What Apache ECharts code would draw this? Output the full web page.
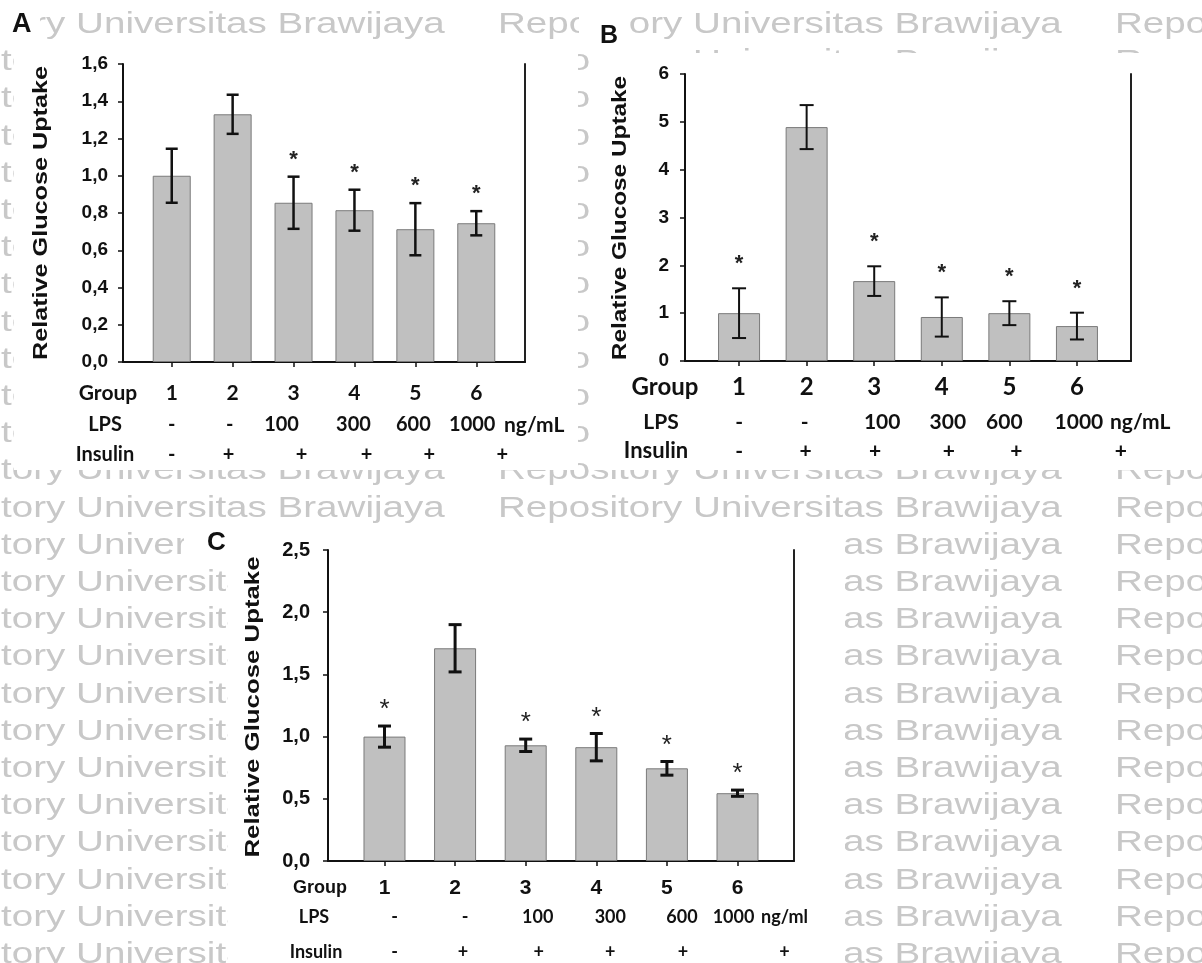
<!DOCTYPE html>
<html><head><meta charset="utf-8">
<script src="https://cdn.jsdelivr.net/npm/echarts@6/dist/echarts.min.js"></script>
<style>html,body{margin:0;padding:0;background:#fff}#c{width:1202px;height:963px}</style>
</head><body><div id="c"></div>
<script>
// ---------- data ----------
const groups = ['1', '2', '3', '4', '5', '6'];
const groupPos = [1, 2, 3, 4, 5, 6];
const lpsLabels = ['-', '-', '100', '300', '600', '1000'];
const insulinLabels = ['-', '+', '+', '+', '+', '+'];

const meanA = [1.00, 1.33, 0.855, 0.815, 0.713, 0.745];
const errA  = [0.145, 0.105, 0.14, 0.11, 0.14, 0.065];
const sigA  = [0, 0, 1, 1, 1, 1];

const meanB = [1.00, 4.89, 1.67, 0.92, 1.00, 0.73];
const errB  = [0.52, 0.46, 0.31, 0.41, 0.25, 0.28];
const sigB  = [1, 0, 1, 1, 1, 1];

const meanC = [1.00, 1.71, 0.93, 0.915, 0.745, 0.545];
const errC  = [0.085, 0.19, 0.05, 0.11, 0.055, 0.025];
const sigC  = [1, 0, 1, 1, 1, 1];

const yTitle = 'Relative Glucose Uptake';
const watermark = 'Repository Universitas Brawijaya';

// ---------- layout / style ----------
const SANS = 'Liberation Sans';
const CAL = 'Lato';
const panels = [
  { letter: 'A', mean: meanA, err: errA, sig: sigA, unit: 'ng/mL',
    grid: { left: 123, top: 64, width: 402, height: 298 }, yMax: 1.6, yInt: 0.2, dec: 1,
    barW: 38, tickFont: 19, yMargin: 15, lw: 2.5, cap: 6, starFont: 'bold 22px "' + SANS + '"', starGap: 17,
    rowFonts: [21, 20, 20], rowFam: [CAL, CAL, CAL], margins: [31, 63, 93],
    nudge: [[0, 0, 0, 0, 0, 0], [0, -3, -12, -1, -2, -4], [0, -4, 8, 12, 14, 26]],
    title: { x: 41, y: 213, size: 21, sx: 1.2 },
    heads: [[108, 393, 21], [105, 425, 20], [105, 455, 20]], unitPos: [504, 425, 21],
    letterPos: [12, 25, 27] },
  { letter: 'B', mean: meanB, err: errB, sig: sigB, unit: 'ng/mL',
    grid: { left: 685, top: 74, width: 446, height: 287 }, yMax: 6, yInt: 1, dec: 0,
    barW: 42, tickFont: 19, yMargin: 16, lw: 2, cap: 7, starFont: 'bold 22px "' + SANS + '"', starGap: 24,
    rowFonts: [24, 21, 21], rowFam: [CAL, CAL, CAL], margins: [26, 61, 90],
    nudge: [[0, 0, 0, 0, 0, 0], [0, -2, 8, 6, -5, 2], [0, -1, 1, 7, 7, 44]],
    title: { x: 620, y: 218, size: 21, sx: 1.16 },
    heads: [[665, 387, 24], [661, 422, 21], [656, 451, 22]], unitPos: [1110, 422, 21],
    letterPos: [600, 36, 25] },
  { letter: 'C', mean: meanC, err: errC, sig: sigC, unit: 'ng/ml',
    grid: { left: 328, top: 550, width: 466, height: 311 }, yMax: 2.5, yInt: 0.5, dec: 1,
    barW: 42, tickFont: 20, yMargin: 18, lw: 3, cap: 6.5, starFont: '26px "' + SANS + '"', starGap: 16,
    rowFonts: [21, 18, 18], rowFam: [SANS, CAL, CAL], margins: [27, 56, 91],
    nudge: [[0, 0, 0, 0, 0, 0], [10, 10, 12, 14, 15, -4], [10, 8, 13, 14, 16, 47]],
    title: { x: 253, y: 707, size: 20, sx: 1.29 },
    heads: [[320, 888, 18, SANS], [314, 917, 18], [316, 952, 18]], unitPos: [761, 917, 18],
    letterPos: [207, 543, 26] }
];

const grids = [], xAxes = [], yAxes = [], series = [], graphics = [];

// watermark background
for (let r = 0; r < 26; r++) {
  for (let j = 0; j < 3; j++) {
    graphics.push({ type: 'text', x: -119 + 617 * j, y: 25 + 37.2 * r, scaleX: 1.33, z: 0,
      style: { text: watermark, font: '29px "' + SANS + '"', fill: '#c8c8c8',
        align: 'left', textAlign: 'left', verticalAlign: 'middle', textVerticalAlign: 'middle' } });
  }
}
// panel image backgrounds
[[14, 39, 564, 431], [589, 53, 613, 417], [228, 528, 617, 435], [184, 528, 44, 40],
 [0, 0, 40, 39], [579, 0, 50, 53]].forEach(b => {
  graphics.push({ type: 'rect', z: 1, shape: { x: b[0], y: b[1], width: b[2], height: b[3] },
    style: { fill: '#ffffff' } });
});

function txt(x, y, text, font, align, extra) {
  return Object.assign({ type: 'text', x: x, y: y, z: 10,
    style: { text: text, font: font, fill: '#111', align: align, textAlign: align,
      verticalAlign: 'middle', textVerticalAlign: 'middle' } }, extra || {});
}

function errRender(p) {
  return function (params, api) {
    const x = api.value(0), lo = api.value(1), hi = api.value(2), s = api.value(3);
    const t = api.coord([x, hi]), b = api.coord([x, lo]);
    const ls = { stroke: '#111', lineWidth: p.lw };
    const ch = [
      { type: 'line', shape: { x1: t[0], y1: t[1], x2: b[0], y2: b[1] }, style: ls },
      { type: 'line', shape: { x1: t[0] - p.cap, y1: t[1], x2: t[0] + p.cap, y2: t[1] }, style: ls },
      { type: 'line', shape: { x1: b[0] - p.cap, y1: b[1], x2: b[0] + p.cap, y2: b[1] }, style: ls }
    ];
    if (s) ch.push({ type: 'text', x: t[0], y: t[1] - p.starGap,
      style: { text: '*', font: p.starFont, fill: '#222', align: 'center', textAlign: 'center',
        verticalAlign: 'middle', textVerticalAlign: 'middle' } });
    return { type: 'group', children: ch };
  };
}

panels.forEach((p, i) => {
  grids.push(Object.assign({ containLabel: false }, p.grid));
  const rowLabels = [groups, lpsLabels, insulinLabels];
  for (let k = 0; k < 3; k++) {
    const rich = {};
    p.nudge[k].forEach((s, n) => {
      rich['o' + n] = { fontFamily: p.rowFam[k], fontWeight: 'bold', fontSize: p.rowFonts[k], color: '#111',
        padding: s >= 0 ? [0, 0, 0, 2 * s] : [0, -2 * s, 0, 0] };
    });
    xAxes.push({ gridIndex: i, type: 'value', min: 0.2, max: 6.8, position: 'bottom', offset: 0, z: 5,
      axisLine: { show: k === 0, onZero: false, lineStyle: { color: '#111', width: 2 } },
      axisTick: { show: k === 0, customValues: groupPos, length: 5, lineStyle: { color: '#111', width: 1.5 } },
      splitLine: { show: false },
      axisLabel: { show: true, customValues: groupPos, margin: p.margins[k], verticalAlign: 'middle',
        fontFamily: p.rowFam[k], fontWeight: 'bold', fontSize: p.rowFonts[k], color: '#111', rich: rich,
        formatter: (function (arr) { return function (v) {
          const n = Math.round(v) - 1; return '{o' + n + '|' + arr[n] + '}'; }; })(rowLabels[k]) } });
  }
  yAxes.push({ gridIndex: i, type: 'value', min: 0, max: p.yMax, interval: p.yInt, z: 5,
    axisLine: { show: true, lineStyle: { color: '#111', width: 2 } },
    axisTick: { show: true, length: 5, lineStyle: { color: '#111', width: 1.5 } },
    splitLine: { show: false },
    axisLabel: { margin: p.yMargin, fontFamily: SANS, fontWeight: 'bold', fontSize: p.tickFont, color: '#111',
      formatter: (function (d) { return function (v) { return v.toFixed(d).replace('.', ','); }; })(p.dec) } });
  yAxes.push({ gridIndex: i, type: 'value', min: 0, max: p.yMax, interval: p.yInt, position: 'right', z: 5,
    axisLine: { show: true, lineStyle: { color: '#222', width: 2 } },
    axisTick: { show: false }, axisLabel: { show: false }, splitLine: { show: false } });

  series.push({ type: 'bar', xAxisIndex: 3 * i, yAxisIndex: 2 * i, z: 6, barWidth: p.barW,
    itemStyle: { color: '#c0c0c0', borderColor: '#7a7a7a', borderWidth: 1 },
    data: p.mean.map((v, k) => [groupPos[k], v]), silent: true, animation: false });
  series.push({ type: 'custom', xAxisIndex: 3 * i, yAxisIndex: 2 * i, z: 7, clip: false,
    renderItem: errRender(p), encode: { x: 0, y: [1, 2] },
    data: p.mean.map((v, k) => [groupPos[k], v - p.err[k], v + p.err[k], p.sig[k]]),
    silent: true, animation: false });

  graphics.push(txt(p.title.x, p.title.y, yTitle, 'bold ' + p.title.size + 'px "' + SANS + '"', 'center',
    { rotation: Math.PI / 2, scaleX: p.title.sx }));
  const heads = ['Group', 'LPS', 'Insulin'];
  p.heads.forEach((h, k) => {
    graphics.push(txt(h[0], h[1], heads[k], 'bold ' + h[2] + 'px "' + (h[3] || CAL) + '"', 'center'));
  });
  graphics.push(txt(p.unitPos[0], p.unitPos[1], p.unit, 'bold ' + p.unitPos[2] + 'px "' + CAL + '"', 'left'));
  graphics.push(txt(p.letterPos[0], p.letterPos[1], p.letter, 'bold ' + p.letterPos[2] + 'px "' + SANS + '"', 'left'));
});

const chart = echarts.init(document.getElementById('c'), null, { renderer: 'canvas' });
chart.setOption({
  animation: false,
  backgroundColor: '#ffffff',
  grid: grids, xAxis: xAxes, yAxis: yAxes, series: series,
  graphic: { elements: graphics }
});
</script></body></html>
